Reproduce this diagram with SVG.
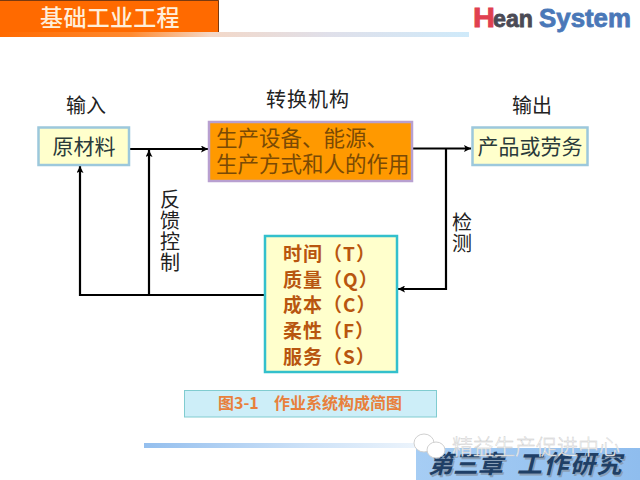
<svg xmlns="http://www.w3.org/2000/svg" width="640" height="480" viewBox="0 0 640 480">
<style>
text{font-family:"Noto Sans CJK SC","Liberation Sans",sans-serif}
.lbl{font-size:20px;fill:#222;text-anchor:middle}
.vert{font-size:20px;fill:#222;writing-mode:vertical-rl;letter-spacing:1px}
.box{fill:#ffffcc;stroke:#9cc8dc;stroke-width:2.5}
.ink{font-size:21px;fill:#2a3a3a;text-anchor:middle}
.line{fill:none;stroke:#000;stroke-width:2.2}
.q{font-size:19px;font-weight:700;fill:#b8560f;letter-spacing:1px}
.p{font-size:21.500px;fill:#7a4a05}
.logo{font-family:"Liberation Sans",sans-serif;font-weight:700;stroke-width:.8}
</style>
<defs>
<linearGradient id="top" x1="0" x2="1" y1="0" y2="0"><stop offset="0" stop-color="#ff6a00"/><stop offset=".28" stop-color="#ff8a30"/><stop offset=".45" stop-color="#f3d8c8"/><stop offset=".7" stop-color="#e0e0ea"/><stop offset="1" stop-color="#cfeafa"/></linearGradient>
<linearGradient id="bot" x1="0" x2="1" y1="0" y2="0"><stop offset="0" stop-color="#94bfee"/><stop offset=".6" stop-color="#cfe3f8"/><stop offset="1" stop-color="#eef5fc"/></linearGradient>
<linearGradient id="foot" x1="0" x2="1" y1="0" y2="0"><stop offset="0" stop-color="#a6cdf4"/><stop offset="1" stop-color="#8fbdee"/></linearGradient>
<marker id="a" markerWidth="8" markerHeight="7" refX="7" refY="3.500" orient="auto" markerUnits="userSpaceOnUse"><path d="M0 0L7 3.500L0 7L1.500 3.500Z" fill="#000"/></marker>
</defs>
<rect width="640" height="480" fill="#fff"/>
<g id="header">
<rect x="0" y="0" width="219" height="32" fill="#ff6a00"/>
<path d="M0 .5H218.500V32" fill="none" stroke="#7a3a10" stroke-width="1"/>
<rect x="0" y="32" width="469" height="5" fill="url(#top)"/>
<text x="110" y="26" font-size="23" font-weight="500" fill="#ffeeda" text-anchor="middle" letter-spacing=".3">基础工业工程</text>
</g>
<g id="logo">
<text class="logo" x="473" y="27" font-size="27" fill="#e04050" stroke="#e04050" textLength="22" lengthAdjust="spacingAndGlyphs">H</text>
<text class="logo" x="493" y="27" font-size="24" fill="#4a4a55" stroke="#4a4a55" textLength="40" lengthAdjust="spacingAndGlyphs">ean</text>
<text class="logo" x="539" y="27" font-size="26" fill="#4a78b8" stroke="#4a78b8" textLength="92" lengthAdjust="spacingAndGlyphs">System</text>
</g>
<g id="connectors">
<path class="line" d="M129 149H208" marker-end="url(#a)"/>
<path class="line" d="M412 148.500H471" marker-end="url(#a)"/>
<path class="line" d="M149 295V150" marker-end="url(#a)"/>
<path class="line" d="M265 295H80V166" marker-end="url(#a)"/>
<path class="line" d="M446 148.500V289H398" marker-end="url(#a)"/>
</g>
<g id="input"><text class="lbl" x="86" y="113">输入</text>
<rect class="box" x="38.500" y="127.500" width="90.500" height="37.500"/>
<text class="ink" x="84" y="154">原材料</text></g>
<g id="process"><text class="lbl" x="308" y="107" letter-spacing="1">转换机构</text>
<rect x="209" y="122" width="203" height="59" fill="#ff9900" stroke="#b8a0d0" stroke-width="2.500"/>
<text class="p" x="216" y="146">生产设备、能源、</text>
<text class="p" x="216" y="172">生产方式和人的作用</text></g>
<g id="output"><text class="lbl" x="532" y="113">输出</text>
<rect class="box" x="472.500" y="127.500" width="115" height="37.500"/>
<text class="ink" x="530" y="154">产品或劳务</text></g>
<g id="feedback-label"><text class="vert" x="170" y="189">反馈控制</text></g>
<g id="detect-label"><text class="vert" x="462" y="212">检测</text></g>
<g id="measures">
<rect x="265" y="236" width="132" height="136" fill="#ffffcc" stroke="#33c0cc" stroke-width="2.500"/>
<text class="q" x="283" y="261">时间（T）</text>
<text class="q" x="283" y="287">质量（Q）</text>
<text class="q" x="283" y="312">成本（C）</text>
<text class="q" x="283" y="338">柔性（F）</text>
<text class="q" x="283" y="364">服务（S）</text>
</g>
<g id="caption">
<rect x="184.500" y="390.500" width="252" height="26.500" fill="#cdeef8" stroke="#80ccd0" stroke-width="1"/>
<text y="409" font-size="16" font-weight="700" fill="#e8803c"><tspan x="218">图3-1</tspan><tspan x="274">作业系统构成简图</tspan></text>
</g>
<g id="footer">
<rect x="144" y="443" width="280" height="5" fill="url(#bot)"/>
<rect x="416" y="448" width="224" height="32" fill="url(#foot)"/>
<g font-size="25" font-weight="700" font-style="italic" fill="#8aa0b8" transform="translate(1.500 1.500)"><text x="428" y="473">第三章</text><text x="517" y="473" letter-spacing="1.500">工作研究</text></g>
<g font-size="25" font-weight="700" font-style="italic" fill="#1f3f66"><text x="428" y="473">第三章</text><text x="517" y="473" letter-spacing="1.500">工作研究</text></g>
</g>
<g id="watermark">
<ellipse cx="424" cy="443" rx="10" ry="9" fill="#fff" stroke="#d0d0d0" stroke-width="1"/>
<ellipse cx="436" cy="450" rx="9" ry="8" fill="#fff" stroke="#d0d0d0" stroke-width="1"/>
<text x="452" y="454" font-size="21" font-weight="300" fill="#fff" stroke="#c8c8c8" stroke-width=".4">精益生产促进中心</text>
</g>
</svg>
